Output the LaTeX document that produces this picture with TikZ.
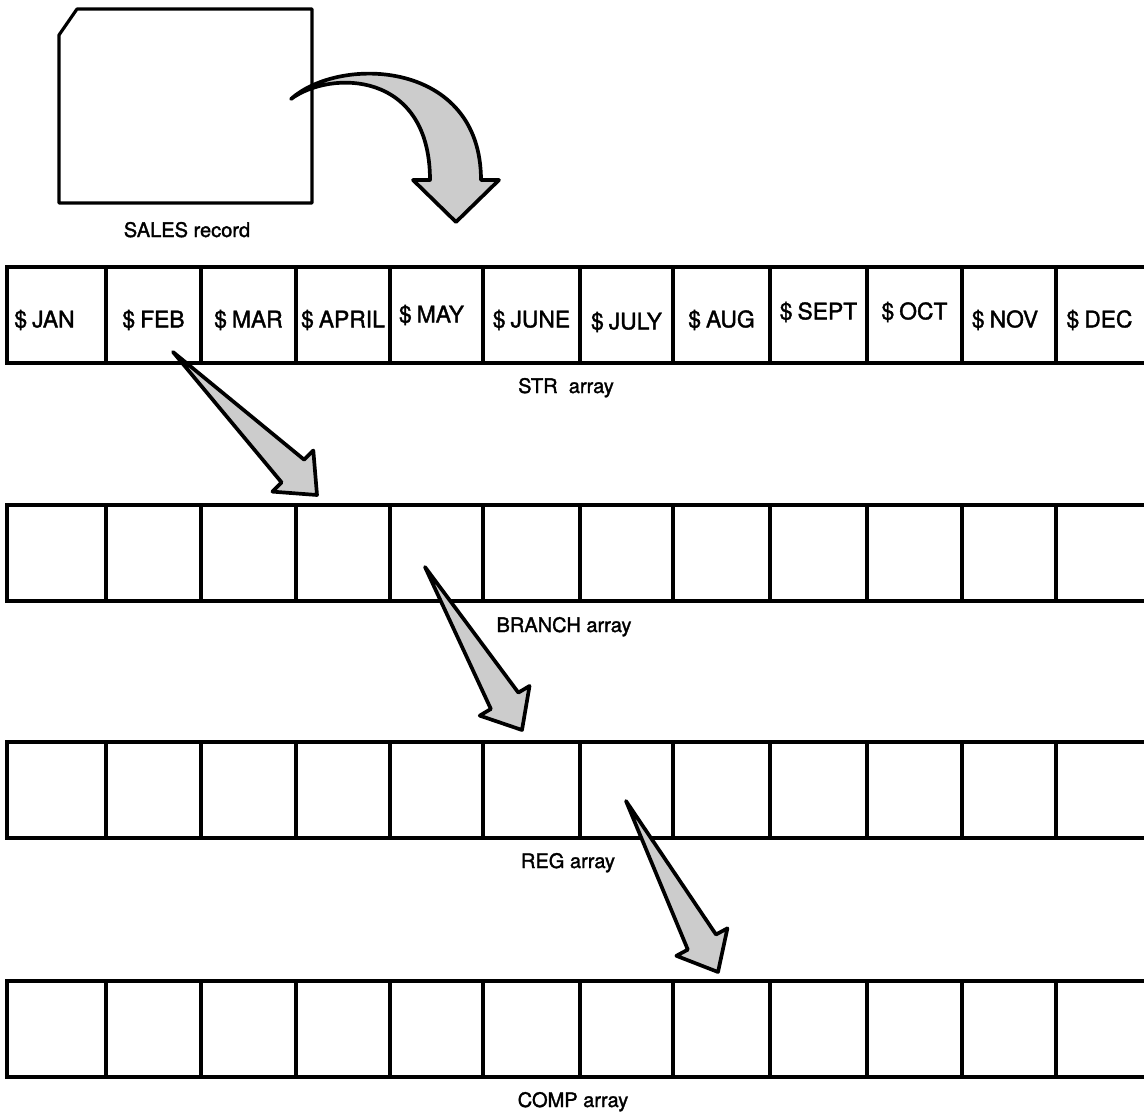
\documentclass[tikz,border=0pt]{standalone}
\usepackage{fontspec}
\setmainfont{TeX Gyre Heros}
\newfontfamily\diagfont{TeX Gyre Heros}[FakeBold=1.6]
\usepackage{tikz}
\usetikzlibrary{calc}

% tapered block arrow: #1 tail, #2 tip
\newcommand{\hdlen}{0.68cm}
\newcommand{\hdwid}{0.58cm}
\newcommand{\shwid}{0.32cm}
\newcommand{\blockarrow}[2]{%
  \coordinate (#2base) at ($(#2)!\hdlen!(#1)$);
  \draw[bigarrow] (#1) -- ($(#2base)!\shwid!90:(#2)$) -- ($(#2base)!\hdwid!90:(#2)$) -- (#2)
    -- ($(#2base)!\hdwid!-90:(#2)$) -- ($(#2base)!\shwid!-90:(#2)$) -- cycle;
}

\begin{document}
\begin{tikzpicture}[x=0.02cm, y=-0.02cm,
  cell/.style={draw, line width=2pt, minimum height=1.92cm, inner sep=0pt},
  month/.style={font=\diagfont\fontsize{13}{15}\selectfont},
  lab/.style={font=\diagfont\fontsize{11.4}{13}\selectfont, anchor=base},
  bigarrow/.style={draw, line width=2.1pt, line join=round, fill=black!20},
  card/.style={draw, line width=1.8pt, line join=round}
]
\useasboundingbox (0,0) rectangle (1144,1113);
\clip (0,0) rectangle (1144,1113);

% the record card
\draw[card] (59,35) -- (77,9) -- (312,9) -- (312,203) -- (59,203) -- cycle;
\node[lab] (saleslab) at (187,237) {SALES record};

% four arrays of twelve cells
\foreach \row/\ytop in {str/267, branch/505, reg/742, comp/981}
  \foreach \xa/\xb [count=\i] in {7/106, 106/201, 201/296, 296/390, 390/483, 483/580,
      580/673, 673/770, 770/867, 867/962, 962/1056, 1056/1151}
    \node[cell, minimum width={(\xb-\xa)*0.02cm}] (\row\i) at ({(\xa+\xb)/2}, \ytop+48) {};

\foreach \m/\dx/\dy [count=\i] in {JAN/-12/0, FEB/0/0, MAR/0/0, APRIL/0/0, MAY/-5/-5,
    JUNE/0/0, JULY/0/2, AUG/0/0, SEPT/0/-8, OCT/0/-8, NOV/-4/0, DEC/-4/0}
  \node[month] (m\i) at ($(str\i)+(\dx,5+\dy)$) {\$\kern0.22em\m};

\node[lab] (strlab) at (566,393) {STR~~array};
\node[lab] (branchlab) at (564,632) {BRANCH array};
\node[lab] (reglab) at (568,868) {REG array};
\node[lab] (complab) at (573,1107) {COMP array};

% arrows
\coordinate (cardout) at (291,99);
\coordinate (strin) at (456,222);
\draw[bigarrow] (cardout) .. controls (340,55) and (481,60) .. (481,180) -- (499,180) -- (strin)
  -- (413,180) -- (430,180) .. controls (430,70) and (330,70) .. (cardout) -- cycle;

\coordinate (strout) at (173,352);
\coordinate (branchin) at (317,495);
\coordinate (branchout) at (425,567);
\coordinate (regin) at (522,730);
\coordinate (regout) at (626,801);
\coordinate (compin) at (718,972);
\blockarrow{strout}{branchin}
\blockarrow{branchout}{regin}
\blockarrow{regout}{compin}
\end{tikzpicture}
\end{document}
